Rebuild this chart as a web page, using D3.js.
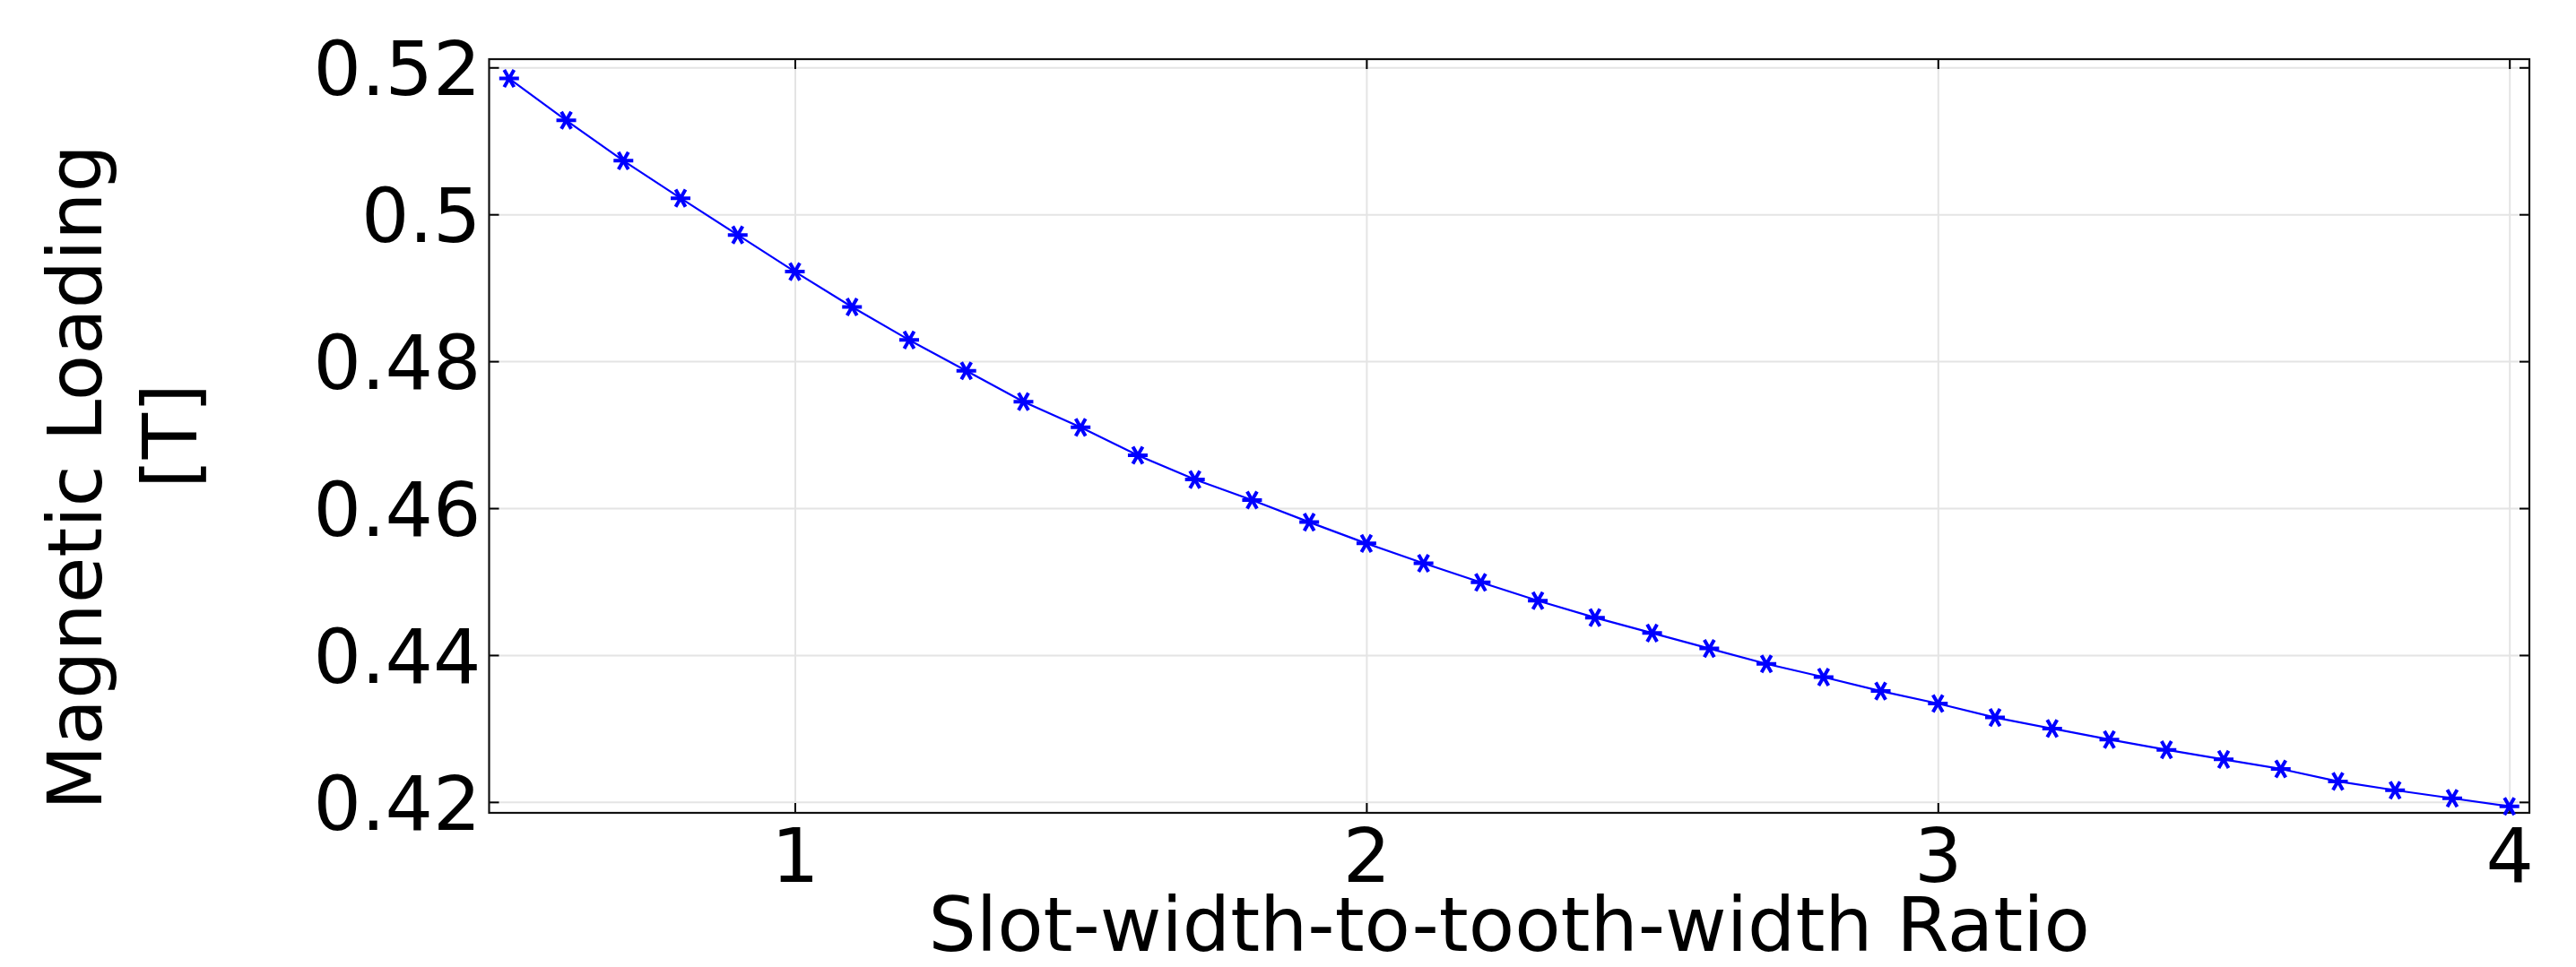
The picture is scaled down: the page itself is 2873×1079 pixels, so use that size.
<!DOCTYPE html>
<html lang="en">
<head>
<meta charset="utf-8">
<title>Magnetic Loading</title>
<script src="https://cdnjs.cloudflare.com/ajax/libs/d3/7.8.5/d3.min.js"></script>
<style>
  body { margin: 0; background: #fff; }
  svg text { font-family: "DejaVu Sans", sans-serif; fill: #000; }
  .grid line { stroke: #e4e4e4; stroke-width: 2; }
  .grid path { display: none; }
  .axis path { display: none; }
  .axis line { stroke: #000; stroke-width: 2; }
  .axis text { font-size: 84px; }
</style>
</head>
<body>
<div id="chart"></div>
<script>
  // slot/tooth width ratio and magnetic loading
  const ratio = [0.5, 0.6, 0.7, 0.8, 0.9, 1.0, 1.1, 1.2, 1.3, 1.4, 1.5, 1.6,
                 1.7, 1.8, 1.9, 2.0, 2.1, 2.2, 2.3, 2.4, 2.5, 2.6, 2.7, 2.8,
                 2.9, 3.0, 3.1, 3.2, 3.3, 3.4, 3.5, 3.6, 3.7, 3.8, 3.9, 4.0];
  const loading = [0.5185, 0.5128, 0.5073, 0.5022, 0.4972, 0.4922, 0.4874, 0.4829,
                   0.4787, 0.4745, 0.4710, 0.4672, 0.4639, 0.4611, 0.4581, 0.4552,
                   0.4525, 0.4499, 0.4474, 0.4451, 0.4430, 0.4409, 0.4388, 0.4370,
                   0.4351, 0.4334, 0.4315, 0.4300, 0.4285, 0.4271, 0.4258, 0.4245,
                   0.4228, 0.4216, 0.4205, 0.4194];
  const xTicks = [1, 2, 3, 4];
  const yTicks = [0.42, 0.44, 0.46, 0.48, 0.5, 0.52];
  const xLabel = "Slot-width-to-tooth-width Ratio";
  const yLabel = ["Magnetic Loading", "[T]"];

  const width = 2873, height = 1079;
  const margin = {left: 545.5, right: 52, top: 66, bottom: 172};
  const w = width - margin.left - margin.right;
  const h = height - margin.top - margin.bottom;

  const data = ratio.map((r, i) => ({x: r, y: loading[i]}));

  const svg = d3.select("#chart").append("svg")
      .attr("width", width)
      .attr("height", height);

  const g = svg.append("g")
      .attr("transform", "translate(" + margin.left + "," + margin.top + ")");

  const x = d3.scaleLinear().domain([0.465, 4.035]).range([0, w]);
  const y = d3.scaleLinear().domain([0.41852, 0.52113]).range([h, 0]);

  // grid
  g.append("g").attr("class", "grid")
      .attr("transform", "translate(0," + h + ")")
      .call(d3.axisBottom(x).tickValues(xTicks).tickSize(-h).tickFormat(""));
  g.append("g").attr("class", "grid")
      .call(d3.axisLeft(y).tickValues(yTicks).tickSize(-w).tickFormat(""));

  // axes with inward ticks
  const fmt = d => String(+d.toFixed(2));
  g.append("g").attr("class", "axis")
      .attr("transform", "translate(0," + h + ")")
      .call(d3.axisBottom(x).tickValues(xTicks).tickSizeInner(-11).tickSizeOuter(0).tickPadding(17).tickFormat(fmt));
  g.append("g").attr("class", "axis")
      .call(d3.axisTop(x).tickValues(xTicks).tickSizeInner(-11).tickSizeOuter(0).tickFormat(""));
  g.append("g").attr("class", "axis")
      .call(d3.axisLeft(y).tickValues(yTicks).tickSizeInner(-11).tickSizeOuter(0).tickPadding(9).tickFormat(fmt))
    .selectAll("text").attr("dy", "0.36em");
  g.append("g").attr("class", "axis")
      .attr("transform", "translate(" + w + ",0)")
      .call(d3.axisRight(y).tickValues(yTicks).tickSizeInner(-11).tickSizeOuter(0).tickFormat(""));

  // frame
  g.append("rect")
      .attr("width", w).attr("height", h)
      .attr("fill", "none").attr("stroke", "#111").attr("stroke-width", 2.2);

  // line
  const line = d3.line().x(d => x(d.x)).y(d => y(d.y));
  g.append("path").datum(data)
      .attr("fill", "none")
      .attr("stroke", "#0000ff")
      .attr("stroke-width", 2.2)
      .attr("d", line);

  // asterisk markers
  const r = 11;
  const star = "M" + (-r) + ",0L" + r + ",0" +
               "M" + (-r * 0.5) + "," + (-r * 0.87) + "L" + (r * 0.5) + "," + (r * 0.87) +
               "M" + (r * 0.5) + "," + (-r * 0.87) + "L" + (-r * 0.5) + "," + (r * 0.87);
  g.append("g").selectAll("path")
      .data(data)
      .enter()
      .append("path")
      .attr("transform", d => "translate(" + x(d.x) + "," + y(d.y) + ")")
      .attr("d", star)
      .attr("fill", "none")
      .attr("stroke", "#0000ff")
      .attr("stroke-width", 4);

  // titles
  svg.append("text")
      .attr("x", margin.left + w / 2)
      .attr("y", 1061)
      .attr("text-anchor", "middle")
      .style("font-size", "84px")
      .text(xLabel);

  const midY = margin.top + h / 2;
  svg.append("text")
      .attr("transform", "translate(113," + (midY + 46) + ") rotate(-90)")
      .attr("text-anchor", "middle")
      .style("font-size", "84px")
      .text(yLabel[0]);
  svg.append("text")
      .attr("transform", "translate(219," + midY + ") rotate(-90)")
      .attr("text-anchor", "middle")
      .style("font-size", "84px")
      .text(yLabel[1]);
</script>
</body>
</html>
